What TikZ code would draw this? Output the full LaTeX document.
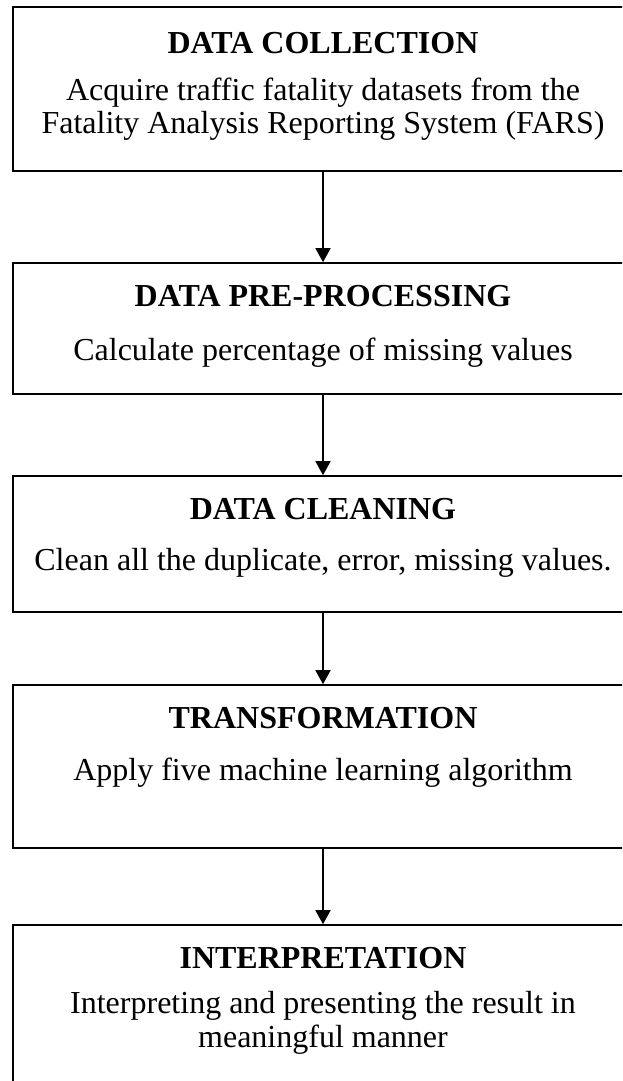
\documentclass[tikz,border=0pt]{standalone}
\usepackage{fontspec}
\setmainfont{Liberation Serif}
\usetikzlibrary{arrows.meta}
\tikzset{
  stagebox/.style={draw=black, line width=1.6pt, rectangle, minimum width=620pt, inner sep=0pt},
  headtext/.style={font=\fontsize{32}{33}\selectfont\bfseries, inner sep=0pt, anchor=base},
  bodytext/.style={font=\fontsize{32}{33.5}\selectfont, inner sep=0pt, align=center},
  flowarrow/.style={line width=1.6pt, -{Triangle[width=15pt,length=14pt]}}
}
\begin{document}
\begin{tikzpicture}[x=1pt,y=-1pt]
\useasboundingbox (0,0) rectangle (622,1081);
\clip (0,0) rectangle (622,1081);
% boxes
\node[stagebox, minimum height=164pt] (b1) at (323,89) {};
\node[stagebox, minimum height=131pt] (b2) at (323,328.5) {};
\node[stagebox, minimum height=136pt] (b3) at (323,544) {};
\node[stagebox, minimum height=163pt] (b4) at (323,766.5) {};
\node[stagebox, minimum height=185pt] (b5) at (323,1017.5) {};
% texts
\node[headtext] (h1) at (323,54) {DATA COLLECTION};
\node[bodytext] (t1) at (323,109) {Acquire traffic fatality datasets from the\\Fatality Analysis Reporting System (FARS)};
\node[headtext] (h2) at (323,306) {DATA PRE-PROCESSING};
\node[bodytext, anchor=base] (t2) at (323,360) {Calculate percentage of missing values};
\node[headtext] (h3) at (323,519) {DATA CLEANING};
\node[bodytext, anchor=base] (t3) at (323,570) {Clean all the duplicate, error, missing values.};
\node[headtext] (h4) at (323,728) {TRANSFORMATION};
\node[bodytext, anchor=base] (t4) at (323,780) {Apply five machine learning algorithm};
\node[headtext] (h5) at (323,968) {INTERPRETATION};
\node[bodytext] (t5) at (323,1023) {Interpreting and presenting the result in\\meaningful manner};
% arrows
\draw[flowarrow] (b1.south) -- (b2.north);
\draw[flowarrow] (b2.south) -- (b3.north);
\draw[flowarrow] (b3.south) -- (b4.north);
\draw[flowarrow] (b4.south) -- (b5.north);
\end{tikzpicture}
\end{document}
